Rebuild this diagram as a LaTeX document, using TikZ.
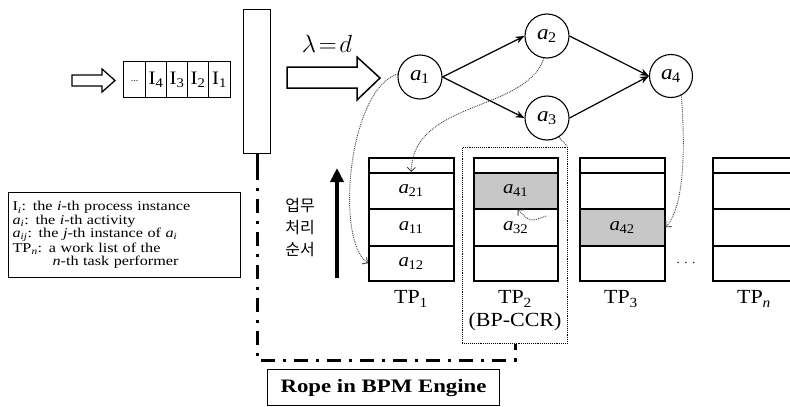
\documentclass[tikz,border=0pt]{standalone}
\usepackage{amsmath}
\usepackage{fontspec}
\setmainfont{Liberation Serif}[FakeStretch=1.1]
\newfontfamily\widefont{Liberation Serif}[FakeStretch=1.2]
\newfontfamily\krfont{Noto Sans CJK KR}
\usetikzlibrary{arrows.meta}
\newcommand\actv[2]{\textit{#1}\textsubscript{\kern-0.5pt#2}}
\begin{document}
\begin{tikzpicture}[x=1pt,y=-1pt,
  act/.style={circle,draw,line width=1.1pt,minimum size=44pt,inner sep=0pt,font=\fontsize{21}{21}\selectfont},
  cell/.style={draw,line width=1.5pt,minimum width=85pt,inner sep=0pt,anchor=north west,font=\fontsize{19}{19}\selectfont},
  qbox/.style={draw,line width=1.1pt,minimum height=36pt,inner sep=0pt,anchor=north west,font=\fontsize{19}{19}\selectfont},
  flowarr/.style={densely dotted,line width=0.9pt,draw=black!75,-{Straight Barb[length=4pt,width=8pt]}},
  flowline/.style={densely dotted,line width=0.9pt,draw=black!75},
  dep/.style={line width=1.2pt,-{Stealth[length=9pt,width=7pt]}},
  rope/.style={line width=3pt,dash pattern=on 14pt off 8pt on 3pt off 8pt},
  tplabel/.style={font=\fontsize{20}{20}\selectfont},
  hollow/.style={draw,line width=1.5pt,fill=white}
]
\useasboundingbox (0,0) rectangle (790,407);

% input arrow and queue
\draw[hollow,line width=1.3pt] (72,75) -- (102,75) -- (102,69) -- (115,80.5) -- (102,92) -- (102,86) -- (72,86) -- cycle;
\node[qbox,minimum width=22pt] (qd) at (123,61) {\raisebox{-4pt}{\fontsize{9}{9}\selectfont...}};
\node[qbox,minimum width=21pt] (q4) at (145,61) {I\textsubscript{4}};
\node[qbox,minimum width=21pt] (q3) at (166,61) {I\textsubscript{3}};
\node[qbox,minimum width=21pt] (q2) at (187,61) {I\textsubscript{2}};
\node[qbox,minimum width=22pt] (q1) at (208,61) {I\textsubscript{1}};

% engine
\node[draw,line width=1.3pt,minimum width=27pt,minimum height=144pt,inner sep=0pt,anchor=north west] (engine) at (243,9) {};

% lambda arrow
\draw[hollow] (287,67) -- (357,67) -- (357,57) -- (380,78) -- (357,100) -- (357,88) -- (287,88) -- cycle;
\node[font=\fontsize{33}{33}\selectfont] (lam) at (327,44) {$\lambda\!=\!d$};

% process
\node[act] (a1) at (420,77) {\actv{a}{1}};
\node[act] (a2) at (547,36) {\actv{a}{2}};
\node[act] (a3) at (547,118) {\actv{a}{3}};
\node[act,minimum size=43pt] (a4) at (671,76) {\actv{a}{4}};
\draw[dep] (a1.east) -- (a2.west);
\draw[dep] (a1.east) -- (a3.west);
\draw[dep] (a2.east) -- (a4.west);
\draw[dep] (a3.east) -- (a4.west);

% BP-CCR box
\node[draw,densely dotted,line width=0.9pt,minimum width=105pt,minimum height=196pt,inner sep=0pt,anchor=north west] (ccr) at (462,147) {};

% TP1
\node[cell,minimum height=15pt] (t1h) at (368,157) {};
\node[cell,minimum height=36pt] (t1r1) at (368,172) {\actv{a}{21}};
\node[cell,minimum height=37pt] (t1r2) at (368,208) {\actv{a}{11}};
\node[cell,minimum height=35pt] (t1r3) at (368,245) {\actv{a}{12}};
% TP2
\node[cell,minimum height=15pt,minimum width=84pt] (t2h) at (473,157) {};
\node[cell,minimum height=36pt,minimum width=84pt,fill=black!22] (t2r1) at (473,172) {\actv{a}{41}};
\node[cell,minimum height=37pt,minimum width=84pt] (t2r2) at (473,208) {\actv{a}{32}};
\node[cell,minimum height=35pt,minimum width=84pt] (t2r3) at (473,245) {};
% TP3
\node[cell,minimum height=15pt] (t3h) at (579,157) {};
\node[cell,minimum height=36pt] (t3r1) at (579,172) {};
\node[cell,minimum height=37pt,fill=black!22] (t3r2) at (579,208) {\actv{a}{42}};
\node[cell,minimum height=35pt] (t3r3) at (579,245) {};
% TPn
\node[cell,minimum height=15pt] (tnh) at (712,157) {};
\node[cell,minimum height=36pt] (tnr1) at (712,172) {};
\node[cell,minimum height=37pt] (tnr2) at (712,208) {};
\node[cell,minimum height=35pt] (tnr3) at (712,245) {};

\node[font=\fontsize{12}{12}\selectfont] (gap) at (686,263) {. . .};

\node[tplabel] (l1) at (411,299) {TP\textsubscript{1}};
\node[tplabel] (l2) at (515,299) {TP\textsubscript{2}};
\node[tplabel] (l2b) at (515,322) {(BP-CCR)};
\node[tplabel] (l3) at (621,299) {TP\textsubscript{3}};
\node[tplabel] (ln) at (754,299) {TP\textsubscript{\textit{n}}};

% order arrow and Korean label
\coordinate (o0) at (337,278);
\coordinate (o1) at (337,168);
\draw[line width=3.5pt,-{Triangle[length=14pt,width=13pt]}] (o0) -- (o1);
\node[font=\krfont\fontsize{16}{22}\selectfont,align=center] (kr) at (300,228) {업무\\처리\\순서};

% dotted flows
\draw[flowarr] (a1.172) .. controls (348,90) and (335,240) .. (t1r3.west);
\draw[flowarr] (a2.262) .. controls (526,112) and (413,100) .. (t1r1.north);
\draw[flowline] (a3.302) -- (ccr.north east);
\coordinate (c32) at (546,216);
\draw[flowarr] (c32) .. controls (530,222) .. ([xshift=2pt]t2r1.south);
\draw[flowarr] (a4.298) .. controls (687,170) and (680,212) .. (t3r2.east);

% rope
\coordinate (r0) at ([yshift=-12pt]engine.south);
\coordinate (rc) at (515,360);
\draw[line width=3pt] (engine.south) -- (r0);
\draw[rope] (r0) |- (rc) -- (ccr.south -| rc);
\node[draw,line width=1.1pt,minimum width=232pt,minimum height=36pt,inner sep=0pt,anchor=north west,font=\widefont\bfseries\fontsize{19}{19}\selectfont] (ropel) at (267,369) {Rope in BPM Engine};

% legend
\node[draw,line width=1.2pt,minimum width=232pt,minimum height=85pt,text width=224pt,inner sep=4pt,anchor=north west,align=left,font=\widefont\fontsize{13.5}{13.4}\selectfont] (legend) at (8,192) {%
I\textsubscript{\textit{i}}: the \textit{i}-th process instance\\
\textit{a}\textsubscript{\textit{i}}: the \textit{i}-th activity\\
\textit{a}\textsubscript{\textit{ij}}: the \textit{j}-th instance of \textit{a}\textsubscript{\textit{i}}\\
TP\textsubscript{\textit{n}}: a work list of the\\
\hspace*{40pt}\textit{n}-th task performer};
\end{tikzpicture}
\end{document}
